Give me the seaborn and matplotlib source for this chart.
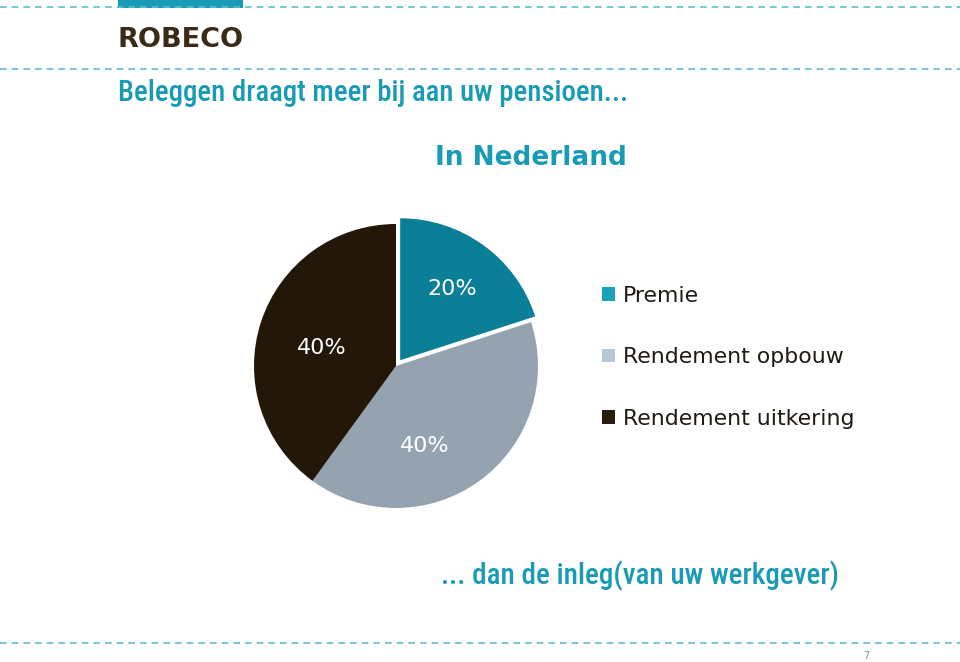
import matplotlib
matplotlib.use("Agg")
import matplotlib.pyplot as plt
from matplotlib import font_manager
from matplotlib.patches import Patch, Rectangle
from matplotlib.lines import Line2D
import seaborn as sns

categories = ["Premie", "Rendement opbouw", "Rendement uitkering"]
values = [20, 40, 40]
pie_colors = ["#0b7f98", "#95a3b1", "#231709"]
legend_colors = ["#1aa2bb", "#b7c7d6", "#2a1c0c"]

title_text = "Beleggen draagt meer bij aan uw pensioen..."
subtitle_text = "In Nederland"
bottom_text = "... dan de inleg(van uw werkgever)"

sns.set_theme(style="white")

def pick(names):
    for n in names:
        try:
            font_manager.findfont(font_manager.FontProperties(family=n), fallback_to_default=False)
            return n
        except Exception:
            pass
    return "DejaVu Sans"

narrow = pick(["Roboto Condensed", "Liberation Sans Narrow", "Roboto"])
plt.rcParams['font.family'] = ['DejaVu Sans']

TEAL = "#1a9bb5"
W, H = 960, 662
fig = plt.figure(figsize=(9.6, 6.62), dpi=100)
fig.patch.set_facecolor("white")

def fx(x): return x / W
def fy(y): return 1 - y / H

# dashed lines
for y in [7, 69, 643]:
    fig.add_artist(Line2D([0, 1], [fy(y), fy(y)], transform=fig.transFigure,
                          color="#5cbfca", lw=1.2, ls=(0, (4, 3))))
# top teal bar
fig.add_artist(Rectangle((fx(118), fy(8)), fx(243) - fx(118), fy(0) - fy(8),
                         transform=fig.transFigure, color=TEAL, lw=0))
# logo
fig.text(fx(117), fy(40), "ROBECO", fontsize=19.5, fontweight="bold", color="#3a2a17",
         va="center", ha="left", family=["DejaVu Sans"])

fig.text(fx(118), fy(93), title_text, fontsize=20.8, color=TEAL, va="center", ha="left",
         family=[narrow], fontweight="medium")
fig.text(fx(640), fy(576), bottom_text, fontsize=21, color=TEAL, va="center", ha="center",
         family=[narrow], fontweight="medium")
fig.text(fx(531), fy(158), subtitle_text, fontsize=19, fontweight="bold", color=TEAL,
         va="center", ha="center")
fig.text(fx(866), fy(656), "7", fontsize=7, color="#6a9aa5", va="center", ha="center")

# pie
cx, cy, r = 396, 366, 142
ax = fig.add_axes([fx(cx - r), fy(cy + r), 2 * r / W, 2 * r / H])
wedges, texts, autotexts = ax.pie(values, colors=pie_colors, startangle=90, counterclock=False,
                                  explode=[0.05, 0, 0], autopct="%d%%", pctdistance=0.62,
                                  textprops=dict(color="white", fontsize=16),
                                  wedgeprops=dict(linewidth=0))
autotexts[1].set_position((0.6 * 0.342, -0.6 * 0.94))
autotexts[2].set_position((-0.52, 0.13))
ax.set_xlim(-1, 1)
ax.set_ylim(-1, 1)
ax.set_aspect("equal")
ax.axis("off")

handles = [Patch(facecolor=c, edgecolor="none") for c in legend_colors]
fig.legend(handles, categories, loc="upper left", bbox_to_anchor=(fx(602), fy(286)),
           frameon=False, fontsize=15.8, handlelength=0.6, handleheight=0.6,
           handletextpad=0.35, labelspacing=1.88, borderpad=0, borderaxespad=0,
           labelcolor="#1f1a14")

fig.savefig("out.png", dpi=100, facecolor="white")
